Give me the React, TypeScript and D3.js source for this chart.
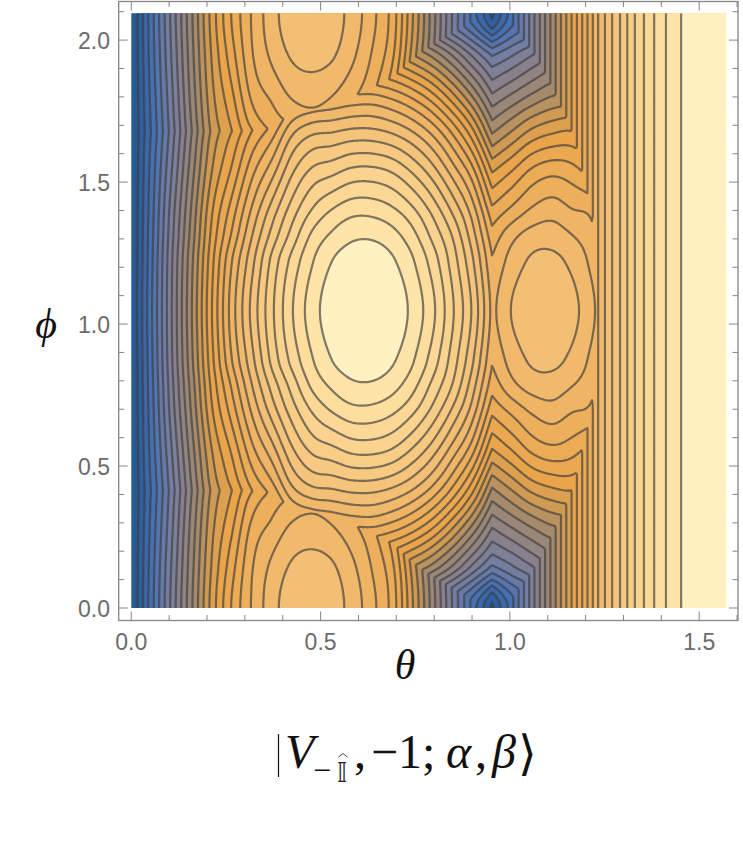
import React from "react";
import * as d3 from "d3";

// Values, in units of "contour number". Rows run along phi, columns along theta.
const phiRows = [0, 0.151, 0.292, 0.415, 0.556, 0.697, 0.785, 0.873, 1.0472];

// Central lobe (left of theta = 0.953)
const thetaLeft = [0,0.055,0.107,0.16,0.213,0.266,0.319,0.372,0.424,0.477,0.53,0.583,0.636,0.689,0.741,0.794,0.847,0.9,0.953];
const centralLobe = [
  [-0.6,-0.4,-0.3,-0.2,-0.2,-0.2,-0.2,-0.2,-0.2],
  [1.5,2.2,2.8,3.2,3.5,3.7,3.8,3.9,4],
  [4,5.2,6,6.5,7,7.5,7.7,7.9,8],
  [6,8,9.2,10,10.6,11.2,11.5,11.8,12],
  [7,10,12,13.2,14,14.9,15.3,15.7,16],
  [7,10,13,15,16.2,17.5,18.2,19,19.5],
  [8,11.5,15,17,18.7,20.2,21,21.7,22.3],
  [8.5,12.5,16,18.5,20.6,22.5,23.4,24.3,24.8],
  [9,13.5,17.8,20.7,22.8,24.5,25.4,26.3,26.9],
  [8.5,13.5,18.3,21.7,24.2,26.1,27.2,27.9,28.5],
  [9.5,15,18.8,21.9,24.7,27.1,28.2,29,29.6],
  [9.2,14.6,19.1,22.2,25.25,27.7,28.8,29.55,30.15],
  [9.2,14.6,19.2,22.2,25.3,27.7,28.85,29.6,30.2],
  [8.9,14.2,18.7,21.8,24.9,27.25,28.4,29.14,29.75],
  [8.1,13.2,17.8,21,23.9,26.3,27.4,28.16,28.76],
  [6.9,11.9,16.4,19.7,22.5,24.8,25.8,26.6,27.3],
  [5.3,10.1,14.4,17.8,20.6,22.9,24,24.6,25.2],
  [3.5,8,12,15.3,18.4,20.6,21.5,22.2,22.9],
  [0.8,6,9.2,11.8,14.9,17.3,18.4,19.1,19.7],
];
// Corner lobe (peak near theta = 0.47, phi = 0)
const cornerLobe = [
  [-0.2,-0.2,-0.2,-0.2,-0.3,-0.4,-0.5,-0.6,-0.8],
  [3.7,3.6,3.4,3.2,2.9,2.6,2.3,2,1.4],
  [7.3,7.1,6.8,6.5,6,5.5,5,4.6,3.6],
  [10.9,10.7,10.4,10,9.3,8.5,7.8,7,5.5],
  [14.4,14.1,13.7,13.2,12.3,11,10,9,7],
  [17.1,16.6,15.8,15,14,12.5,11.3,10,8],
  [19.1,18.9,18.2,16.9,13.8,10.3,8.3,6.2,1.8],
  [20.6,20.2,19.2,18.1,15.6,11.8,9.5,7.3,3],
  [21.6,21.1,20.1,18.7,16.5,12.9,10.3,8.1,3.6],
  [21.9,21.3,20.4,19,17.1,13.2,10.5,8.3,3.8],
  [21.5,21.1,20,18.7,16.4,12.8,10.3,8,3.5],
  [20.6,20.2,19.2,18.1,15.6,11.6,9.4,7.2,2.9],
  [19.3,18.9,18.1,16.9,13.5,10.2,8.1,5.9,1.6],
  [17.6,17.2,15.9,13.5,11,8.1,6.3,4.8,0.3],
  [14.2,13.7,12.4,10.7,8.6,5.9,4.2,2.4,-1.5],
  [10.6,10.2,9,7.9,5.9,3.5,1.2,0,-3],
  [7,6.7,5.9,4.8,3,0.5,-1,-2,-5],
  [3.7,3.4,2.6,1.4,-0.3,-2,-3.5,-5,-8],
  [0,-0.3,-1,-2,-3,-5,-6,-7,-10],
];
// Right lobe (peak near theta = 1.09, phi = 1.05)
const thetaRight = [0.953,1.005,1.058,1.111,1.164,1.211,1.264];
const rightLobe = [
  [0.8,6,9.2,11.8,14.9,17.3,18.4,19.1,19.7],
  [3.4,7,10.2,13,16,18.3,19.7,20.4,21.05],
  [4.5,8.05,11.2,14.2,17.2,19.2,20.45,21.15,21.65],
  [5.5,9,12,14.8,17.7,19.6,20.55,21.25,21.75],
  [6,9.2,12.2,15,17.4,19.1,20.05,20.75,21.3],
  [5.8,8.8,11.6,14.2,16.6,18.8,19.4,19.85,20.38],
  [5.3,8.2,10.8,13.2,15.6,17.3,18,18.4,18.8],
];
// Vertical contours: contour number as it depends on theta only
const wallTheta = [0.953,1.093,1.233,1.251,1.27,1.291,1.31,1.33,1.354,1.381,1.412,1.452,1.5708];
const wallValue = [0,10,20,21,22,23,24,25,26,27,28,29,30.5];

const levels = d3.range(1, 30);
const colorStops = [0,1.5,3.5,6,9,11.5,13.5,15.5,18,20,22,25,27,28.5,29.5];
const colorValues = ["#25598f","#2f5fa0","#4470b4","#6f7da8","#8d8288","#a58a6c","#cf9a52","#eaa54a","#edad58","#f0b668","#f4c278","#f9d08a","#fcdb98","#fee4a8","#fff1c0"];
const xTickMajor = [0,0.5,1,1.5];
const yTickMajor = [0,0.5,1,1.5,2];
const xTickAll = d3.range(0, 17).map(i => i / 10);
const yTickAll = d3.range(0, 22).map(i => i / 10);

const W = 743, H = 842;
const PHI = (2 * Math.PI) / 3;
const sx = d3.scaleLinear().domain([0, Math.PI / 2]).range([131.3, 726]);
const sy = d3.scaleLinear().domain([0, PHI]).range([608, 13.3]);
const frame = { l: 118.7, r: 738, t: 1.5, b: 620.5 };
const color = d3.scaleLinear<string>().domain(colorStops).range(colorValues).interpolate(d3.interpolateRgb);
const wall = d3.scaleLinear().domain(wallTheta).range(wallValue).clamp(true);

function hermite(xs: number[], ys: number[], x: number, zeroEnds: boolean) {
  const n = xs.length;
  if (x <= xs[0]) return ys[0];
  if (x >= xs[n - 1]) return ys[n - 1];
  const i = Math.min(n - 2, d3.bisectRight(xs, x) - 1);
  const slope = (k: number) => {
    if (k === 0) return zeroEnds ? 0 : (ys[1] - ys[0]) / (xs[1] - xs[0]);
    if (k === n - 1) return zeroEnds ? 0 : (ys[n - 1] - ys[n - 2]) / (xs[n - 1] - xs[n - 2]);
    return (ys[k + 1] - ys[k - 1]) / (xs[k + 1] - xs[k - 1]);
  };
  const h = xs[i + 1] - xs[i], t = (x - xs[i]) / h, t2 = t * t, t3 = t2 * t;
  return (2 * t3 - 3 * t2 + 1) * ys[i] + (t3 - 2 * t2 + t) * h * slope(i) + (-2 * t3 + 3 * t2) * ys[i + 1] + (t3 - t2) * h * slope(i + 1);
}

const NX = 400, NY = 400;
const thetaAt = (i: number) => (i / (NX - 1)) * (Math.PI / 2);
const phiAt = (j: number) => (j / (NY - 1)) * PHI;

function buildField() {
  const out = new Array(NX * NY);
  for (let j = 0; j < NY; j++) {
    const p = Math.min(phiAt(j), PHI - phiAt(j));
    const c = centralLobe.map(col => hermite(phiRows, col, p, true));
    const k = cornerLobe.map(col => hermite(phiRows, col, p, true));
    const r = rightLobe.map(col => hermite(phiRows, col, p, true));
    for (let i = 0; i < NX; i++) {
      const t = thetaAt(i);
      out[j * NX + i] = t < thetaLeft[thetaLeft.length - 1]
        ? Math.max(hermite(thetaLeft, c, t, false), hermite(thetaLeft, k, t, false))
        : Math.max(hermite(thetaRight, r, t, false), wall(t));
    }
  }
  return out;
}

const bands = d3.contours().size([NX, NY]).thresholds(levels)(buildField());
const toPx = (p: number[]): [number, number] => {
  const u = Math.max(0, Math.min(NX - 1, p[0] - 0.5)), v = Math.max(0, Math.min(NY - 1, p[1] - 0.5));
  return [sx(thetaAt(u)), sy(phiAt(v))];
};
type P = [number, number];
const flatLine = d3.line<P>();

const onEdge = (a: P, b: P) => {
  const e = 0.001;
  const [x0, x1] = sx.range();
  const [y0, y1] = sy.range();
  return (Math.abs(a[0] - x0) < e && Math.abs(b[0] - x0) < e) ||
    (Math.abs(a[0] - x1) < e && Math.abs(b[0] - x1) < e) ||
    (Math.abs(a[1] - y0) < e && Math.abs(b[1] - y0) < e) ||
    (Math.abs(a[1] - y1) < e && Math.abs(b[1] - y1) < e);
};

function ringPaths(ring: number[][]) {
  const pts: P[] = [];
  for (const p of ring) {
    const q = toPx(p);
    const last = pts[pts.length - 1];
    if (!last || Math.hypot(last[0] - q[0], last[1] - q[1]) > 0.02) pts.push(q);
  }
  if (pts.length > 1 && Math.hypot(pts[0][0] - pts[pts.length - 1][0], pts[0][1] - pts[pts.length - 1][1]) < 0.02) pts.pop();
  const n = pts.length;
  const breaks: number[] = [];
  for (let i = 0; i < n; i++) if (onEdge(pts[i], pts[(i + 1) % n])) breaks.push(i);
  if (!breaks.length) return [flatLine(pts) + "Z"];
  const out: string[] = [];
  for (let b = 0; b < breaks.length; b++) {
    const start = (breaks[b] + 1) % n;
    const end = breaks[(b + 1) % breaks.length];
    const seg: P[] = [];
    let i = start;
    for (let guard = 0; guard <= n; guard++) {
      seg.push(pts[i]);
      if (i === end) break;
      i = (i + 1) % n;
    }
    if (seg.length > 1) out.push(flatLine(seg) as string);
  }
  return out;
}

const fillPaths = bands.map(b => ({
  value: b.value,
  d: b.coordinates.map(poly => poly.map(ring => flatLine(ring.map(toPx)) + "Z").join("")).join(""),
}));
const linePaths = bands.flatMap(b => b.coordinates.flatMap(poly => poly.flatMap(ring => ringPaths(ring))));

const labelFont = '"Liberation Sans", Arial, sans-serif';
const mathFont = '"Liberation Serif", "DejaVu Serif", serif';
const grey = "#858585";

export default function App() {
  return (
    <svg width={W} height={H} viewBox={`0 0 ${W} ${H}`} style={{ position: "absolute", left: 0, top: 0, background: "#fff" }}>
      <defs>
        <clipPath id="plot"><rect x={sx(0)} y={sy(PHI)} width={sx(Math.PI / 2) - sx(0)} height={sy(0) - sy(PHI)} /></clipPath>
      </defs>
      <g clipPath="url(#plot)">
        <rect x={0} y={0} width={W} height={H} fill={color(0.3)} />
        {fillPaths.map(f => <path key={f.value} d={f.d} fill={color(f.value + 0.5)} fillRule="evenodd" stroke={color(f.value + 0.5)} strokeWidth={0.3} />)}
        {linePaths.map((d, i) => <path key={i} d={d} fill="none" stroke="#3c3c3c" strokeOpacity={0.66} strokeWidth={2.2} strokeLinejoin="round" />)}
      </g>
      <rect x={frame.l} y={frame.t} width={frame.r - frame.l} height={frame.b - frame.t} fill="none" stroke={grey} strokeWidth={1.3} />
      {xTickAll.map(t => {
        const major = xTickMajor.includes(t), len = major ? 9 : 5.5, x = sx(t);
        return <g key={t} stroke={grey} strokeWidth={1}>
          <line x1={x} x2={x} y1={frame.b} y2={frame.b - len} />
          <line x1={x} x2={x} y1={frame.t} y2={frame.t + len} />
        </g>;
      })}
      {yTickAll.map(t => {
        const major = yTickMajor.includes(t), len = major ? 9 : 5.5, y = sy(t);
        return <g key={t} stroke={grey} strokeWidth={1}>
          <line y1={y} y2={y} x1={frame.l} x2={frame.l + len} />
          <line y1={y} y2={y} x1={frame.r} x2={frame.r - len} />
        </g>;
      })}
      {xTickMajor.map(t => <text key={t} x={sx(t)} y={650} textAnchor="middle" fontFamily={labelFont} fontSize={23} fill="#6b6b6b">{t.toFixed(1)}</text>)}
      {yTickMajor.map(t => <text key={t} x={110} y={sy(t) + 8.5} textAnchor="end" fontFamily={labelFont} fontSize={23} fill="#6b6b6b">{t.toFixed(1)}</text>)}
      <text x={405} y={679} textAnchor="middle" fontFamily={mathFont} fontStyle="italic" fontSize={42} fill="#111">θ</text>
      <text x={46} y={338} textAnchor="middle" fontFamily={mathFont} fontStyle="italic" fontSize={42} fill="#111">ϕ</text>
      <g fontFamily={mathFont} fill="#111">
        <line x1={278.5} x2={278.5} y1={734} y2={777} stroke="#111" strokeWidth={1.2} />
        <text x={285} y={768} fontStyle="italic" fontSize={48}>V</text>
        <text x={313} y={781} fontSize={32}>−</text>
        <text x={337} y={782} fontSize={26} fontFamily='"DejaVu Sans", sans-serif' fill="#222">𝕀</text>
        <path d="M338.5 757 L343 753.5 L347.5 757" fill="none" stroke="#333" strokeWidth={0.9} />
        <text x={354} y={768} fontSize={48}>,</text>
        <text x={371} y={768} fontSize={48}>−1;</text>
        <text x={446} y={768} fontStyle="italic" fontSize={48}>α</text>
        <text x={475} y={768} fontSize={48}>,</text>
        <text x={492} y={768} fontStyle="italic" fontSize={48}>β</text>
        <text x={518} y={770} fontSize={48} fontFamily='"DejaVu Sans", sans-serif'>⟩</text>
      </g>
    </svg>
  );
}
